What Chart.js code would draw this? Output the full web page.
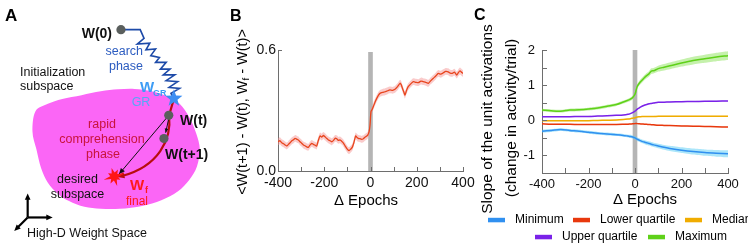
<!DOCTYPE html>
<html><head><meta charset="utf-8">
<script src="https://cdn.jsdelivr.net/npm/chart.js@4.4.1/dist/chart.umd.min.js"></script>
<style>
html,body{margin:0;padding:0;background:#fff;overflow:hidden;width:748px;height:250px}
canvas{position:absolute;left:0;top:0}
</style></head><body>
<canvas id="cA" width="240" height="250"></canvas>
<canvas id="cB" width="748" height="250"></canvas>
<canvas id="cC" width="748" height="250"></canvas>
<script>
// ---------------- DATA ----------------
// Panel B: alignment of weight update with final direction, vs epochs relative to transition
const bEpochs = [-400,-392,-384,-376,-368,-362,-355,-348,-340,-333,-326,-319,-312,-305,-298,-290,-283,-276,-269,-262,
  -254,-247,-240,-233,-226,-218,-211,-204,-197,-190,-182,-175,-168,-160,-153,-146,-139,-132,-125,-118,
  -110,-103,-98,-93,-86,-79,-72,-64,-58,-53,-46,-38,-31,-24,-18,-12,-6,-2,2,7,
  12,19,27,34,41,52,63,74,84,95,106,117,128,133,138,144,149,156,163,174,
  185,196,207,218,228,239,250,261,272,283,293,304,315,325,336,345,354,363,373,380,
  387,395,400];
const bMean = [0.145,0.150,0.140,0.135,0.128,0.124,0.132,0.140,0.150,0.155,0.162,0.158,0.154,0.145,0.138,0.129,0.125,0.120,0.117,0.128,
  0.137,0.132,0.128,0.124,0.150,0.174,0.168,0.176,0.170,0.162,0.154,0.150,0.145,0.152,0.162,0.160,0.152,0.154,0.148,0.140,
  0.125,0.112,0.105,0.101,0.108,0.117,0.140,0.174,0.166,0.162,0.160,0.157,0.160,0.167,0.172,0.178,0.195,0.228,0.294,0.305,
  0.319,0.340,0.360,0.375,0.385,0.390,0.393,0.398,0.402,0.400,0.405,0.418,0.435,0.428,0.410,0.392,0.377,0.400,0.418,0.432,
  0.443,0.440,0.438,0.446,0.443,0.440,0.435,0.448,0.460,0.472,0.484,0.480,0.487,0.494,0.492,0.485,0.484,0.490,0.476,0.488,
  0.496,0.488,0.484];
const bSem = 0.017;
const bXTickMarks = [-400,-300,-200,-100,0,100,200,300,400];
const bXTickLabels = [-400,-200,0,200,400];
const bYTickLabels = [0, 0.6];

// Panel C: slopes of unit activations
const cEpochs = [-400,-360,-320,-280,-240,-200,-160,-120,-80,-50,-30,-20,-10,0,5,10,20,30,40,50,60,70,80,100,125,150,200,250,300,350,400];
const cMinimum = [-0.31,-0.29,-0.265,-0.29,-0.31,-0.34,-0.37,-0.39,-0.41,-0.43,-0.45,-0.46,-0.475,-0.50,-0.52,-0.54,-0.57,-0.60,-0.62,-0.64,-0.66,-0.68,-0.70,-0.73,-0.77,-0.80,-0.85,-0.89,-0.92,-0.94,-0.955];
const cLowerQuartile = [-0.10,-0.11,-0.11,-0.115,-0.12,-0.12,-0.12,-0.12,-0.12,-0.115,-0.11,-0.105,-0.10,-0.095,-0.095,-0.095,-0.10,-0.105,-0.11,-0.115,-0.12,-0.125,-0.13,-0.14,-0.145,-0.15,-0.16,-0.17,-0.175,-0.185,-0.19];
const cMedian = [-0.01,-0.01,-0.01,-0.01,-0.01,-0.01,-0.005,0.0,0.005,0.02,0.035,0.045,0.06,0.075,0.085,0.095,0.10,0.105,0.11,0.11,0.11,0.11,0.11,0.112,0.112,0.113,0.113,0.114,0.114,0.115,0.115];
const cUpperQuartile = [0.10,0.10,0.10,0.10,0.11,0.11,0.12,0.13,0.14,0.15,0.17,0.19,0.22,0.26,0.29,0.32,0.36,0.40,0.43,0.45,0.47,0.48,0.49,0.51,0.515,0.52,0.53,0.535,0.54,0.545,0.55];
const cMaximum = [0.29,0.27,0.26,0.29,0.30,0.32,0.35,0.40,0.45,0.52,0.57,0.60,0.65,0.74,0.86,0.97,1.07,1.14,1.21,1.27,1.32,1.40,1.41,1.47,1.51,1.55,1.63,1.70,1.75,1.80,1.84];
const cMinimumSem = [0.04,0.04,0.04,0.04,0.04,0.04,0.04,0.04,0.04,0.04,0.04,0.045,0.045,0.05,0.05,0.05,0.05,0.055,0.055,0.06,0.06,0.06,0.06,0.065,0.07,0.075,0.08,0.085,0.09,0.095,0.10];
const cMaximumSem = [0.04,0.04,0.04,0.04,0.04,0.04,0.04,0.04,0.04,0.045,0.045,0.05,0.05,0.055,0.06,0.06,0.065,0.07,0.07,0.075,0.075,0.08,0.08,0.085,0.09,0.095,0.10,0.11,0.115,0.12,0.125];
const cSmallSem = 0.015;
const cSeriesNames = ['Minimum','Lower quartile','Median','Upper quartile','Maximum'];
const cXTickMarks = [-400,-300,-200,-100,0,100,200,300,400];
const cXTickLabels = [-400,-200,0,200,400];
const cYTickMarks = [-1.5,-1,-0.5,0,0.5,1,1.5,2];
const cYTickLabels = [-1,0,1,2];
const markerRange = [-10, 10];

// ---------------- STYLE / LAYOUT ----------------
const FF = '"Liberation Sans", Arial, Helvetica, sans-serif';
const font = (s, b) => (b ? 'bold ' : '') + s + 'px ' + FF;
const AXIS = '#6e6e6e';
const cColors = ['#3090f0','#e8380d','#f0ac00','#7a22e8','#5fd119'];
const cBands = ['rgba(90,205,245,0.5)','rgba(240,120,90,0.3)','rgba(245,200,90,0.35)','rgba(160,110,240,0.3)','rgba(140,228,90,0.5)'];
const legendPos = [[488,220],[573,220],[685,220],[535,237],[648,237]];

function txt(ctx, s, x, y, f, color, align, base) {
  ctx.font = f; ctx.fillStyle = color; ctx.textAlign = align || 'left'; ctx.textBaseline = base || 'middle';
  ctx.fillText(s, x, y);
}
function bandSets(xs, ys, sem, color) {
  const up = xs.map((e, i) => ({x: e, y: ys[i] + (Array.isArray(sem) ? sem[i] : sem)}));
  const lo = xs.map((e, i) => ({x: e, y: ys[i] - (Array.isArray(sem) ? sem[i] : sem)}));
  return [
    {data: up, borderWidth: 0, pointRadius: 0, fill: '+1', backgroundColor: color, order: 2, tension: 0.2},
    {data: lo, borderWidth: 0, pointRadius: 0, fill: false, order: 2, tension: 0.2}
  ];
}
function axisPlugin(cfg) {
  return {
    id: 'axisExtras' + cfg.key,
    beforeDatasetsDraw(chart) {
      const {ctx, chartArea: a, scales: {x, y}} = chart;
      const x0 = x.getPixelForValue(markerRange[0]), x1 = x.getPixelForValue(markerRange[1]);
      ctx.save(); ctx.fillStyle = '#b5b5b5';
      ctx.fillRect(x0, a.top + cfg.markerTopGap, x1 - x0, a.bottom - a.top - cfg.markerTopGap);
      ctx.restore();
    },
    afterDraw(chart) {
      const {ctx, chartArea: a, scales: {x, y}} = chart;
      ctx.save(); ctx.strokeStyle = AXIS; ctx.lineWidth = 1; ctx.beginPath();
      cfg.xMarks.forEach(v => { const p = Math.round(x.getPixelForValue(v)) + 0.5; ctx.moveTo(p, a.bottom); ctx.lineTo(p, a.bottom - cfg.len); });
      cfg.yMarks.forEach(v => { const p = Math.round(y.getPixelForValue(v)) + 0.5; ctx.moveTo(a.left, p); ctx.lineTo(a.left + cfg.len, p); });
      ctx.stroke(); ctx.restore();
      ctx.save(); cfg.extra(ctx, chart); ctx.restore();
    }
  };
}
function baseOptions(pad, yW, xH, xMin, xMax, yMin, yMax, xLab, yLab, yFmt, tickFont, xPad, yPad) {
  return {
    responsive: false, animation: false, events: [],
    layout: {padding: pad},
    plugins: {legend: {display: false}, tooltip: {enabled: false}},
    scales: {
      x: {type: 'linear', min: xMin, max: xMax,
        afterBuildTicks: s => { s.ticks = xLab.map(v => ({value: v})); },
        afterFit: s => { s.height = xH; },
        ticks: {autoSkip: false, maxRotation: 0, minRotation: 0, font: {family: FF, size: tickFont}, color: '#111', padding: xPad, callback: v => String(v)},
        grid: {display: true, drawOnChartArea: false, drawTicks: false},
        border: {display: true, color: AXIS, width: 1}},
      y: {type: 'linear', min: yMin, max: yMax,
        afterBuildTicks: s => { s.ticks = yLab.map(v => ({value: v})); },
        afterFit: s => { s.width = yW; },
        ticks: {autoSkip: false, font: {family: FF, size: tickFont}, color: '#111', padding: yPad, callback: yFmt},
        grid: {display: true, drawOnChartArea: false, drawTicks: false},
        border: {display: true, color: AXIS, width: 1}}
    }
  };
}

// ---------------- PANEL B ----------------
const bData = bEpochs.map((e, i) => ({x: e, y: bMean[i]}));
new Chart(document.getElementById('cB'), {
  type: 'line',
  data: {datasets: [
    ...bandSets(bEpochs, bMean, bSem, 'rgba(245,140,140,0.45)'),
    {data: bData, borderColor: '#e8461e', borderWidth: 1.3, pointRadius: 0, fill: false, order: 1, tension: 0.2}
  ]},
  options: baseOptions({left: 248, right: 285, top: 50, bottom: 39}, 30, 40, -400, 400, 0, 0.6,
    bXTickLabels, bYTickLabels, v => Number(v).toFixed(1), 14, 4, 2),
  plugins: [axisPlugin({key: 'B', len: 4, markerTopGap: 2, xMarks: bXTickMarks, yMarks: bYTickLabels, extra: (ctx) => {
    txt(ctx, 'B', 230, 17, font(16, true), '#000');
    txt(ctx, '\u0394 Epochs', 366, 201, font(15), '#000', 'center');
    // rotated y label with subscript
    ctx.translate(243, 112); ctx.rotate(-Math.PI / 2);
    const parts = [['<W(t+1) - W(t), W', 14.5, 0], ['f', 9.5, 3], [' - W(t)>', 14.5, 0]];
    let total = 0;
    parts.forEach(p => { ctx.font = font(p[1]); total += ctx.measureText(p[0]).width; });
    let cx = -total / 2;
    parts.forEach(p => { ctx.font = font(p[1]); ctx.fillStyle = '#000'; ctx.textAlign = 'left'; ctx.textBaseline = 'middle'; ctx.fillText(p[0], cx, p[2]); cx += ctx.measureText(p[0]).width; });
  }})]
});

// ---------------- PANEL C ----------------
const cSeries = [cMinimum, cLowerQuartile, cMedian, cUpperQuartile, cMaximum];
const cSems = [cMinimumSem, cSmallSem, cSmallSem, cSmallSem, cMaximumSem];
const cDatasets = [];
cSeries.forEach((vals, k) => cDatasets.push(...bandSets(cEpochs, vals, cSems[k], cBands[k])));
cSeries.forEach((vals, k) => cDatasets.push({data: cEpochs.map((e, i) => ({x: e, y: vals[i]})), borderColor: cColors[k], borderWidth: 1.5, pointRadius: 0, fill: false, order: 1, tension: 0.3}));
new Chart(document.getElementById('cC'), {
  type: 'line',
  data: {datasets: cDatasets},
  options: baseOptions({left: 502, right: 20, top: 50, bottom: 37}, 40, 40, -400, 400, -1.5, 2,
    cXTickLabels, cYTickLabels, v => String(v), 13, 4, 7),
  plugins: [axisPlugin({key: 'C', len: 5, markerTopGap: 0, xMarks: cXTickMarks, yMarks: cYTickMarks, extra: (ctx) => {
    txt(ctx, 'C', 474, 16, font(16, true), '#000');
    txt(ctx, '\u0394 Epochs', 645, 200, font(15), '#000', 'center');
    ctx.save(); ctx.translate(488, 119); ctx.rotate(-Math.PI / 2);
    txt(ctx, 'Slope of the unit activations', 0, 0, font(15.5), '#000', 'center');
    ctx.restore();
    ctx.save(); ctx.translate(511.5, 118); ctx.rotate(-Math.PI / 2);
    txt(ctx, '(change in activity/trial)', 0, 0, font(15.5), '#000', 'center');
    ctx.restore();
    cSeriesNames.forEach((n, k) => {
      const [lx, ly] = legendPos[k];
      ctx.fillStyle = cColors[k]; ctx.fillRect(lx, ly - 2.2, 17, 4.5);
      txt(ctx, n, lx + 27, ly, font(12), '#000');
    });
  }})]
});

// ---------------- PANEL A (schematic) ----------------
const blobPts = [[32,111],[45,103],[60,98],[80,94],[100,90],[118,88],[135,87.5],[153,90],[168,95],[182,103],[192,117],[199,133],[203,150],[200,168],[192,182],[180,194],[163,203],[143,209],[120,212],[100,212],[83,210],[67,204],[55,196],[45,185],[38,170],[33,150],[29,132]];
const zigPts = [[121,26],[141,26],[145,35],[138,41],[151,40],[147,47],[157,46],[152,53],[161,55],[157,60],[168,60],[162,67],[172,67],[165,73],[177,73],[168,79],[180,80],[171,86],[182,87],[173,92],[176,98]];
const weightDots = [{x:121,y:26},{x:170.7,y:115},{x:165.7,y:139}];

function closedSpline(ctx, pts) {
  const n = pts.length;
  ctx.moveTo(pts[0][0], pts[0][1]);
  for (let i = 0; i < n; i++) {
    const p0 = pts[(i - 1 + n) % n], p1 = pts[i], p2 = pts[(i + 1) % n], p3 = pts[(i + 2) % n];
    ctx.bezierCurveTo(p1[0] + (p2[0] - p0[0]) / 6, p1[1] + (p2[1] - p0[1]) / 6, p2[0] - (p3[0] - p1[0]) / 6, p2[1] - (p3[1] - p1[1]) / 6, p2[0], p2[1]);
  }
  ctx.closePath();
}
function head(ctx, from, to, size, color) {
  const ang = Math.atan2(to[1] - from[1], to[0] - from[0]);
  ctx.beginPath();
  ctx.moveTo(to[0], to[1]);
  ctx.lineTo(to[0] - size * Math.cos(ang - 0.42), to[1] - size * Math.sin(ang - 0.42));
  ctx.lineTo(to[0] - size * Math.cos(ang + 0.42), to[1] - size * Math.sin(ang + 0.42));
  ctx.closePath(); ctx.fillStyle = color; ctx.fill();
}
function star(ctx, c, radii, inner, rot, color) {
  const n = radii.length;
  ctx.beginPath();
  for (let i = 0; i < n; i++) {
    const a1 = rot + i * 2 * Math.PI / n, a2 = a1 + Math.PI / n;
    ctx.lineTo(c[0] + radii[i] * Math.cos(a1), c[1] + radii[i] * Math.sin(a1));
    ctx.lineTo(c[0] + inner * Math.cos(a2), c[1] + inner * Math.sin(a2));
  }
  ctx.closePath(); ctx.fillStyle = color; ctx.fill();
}
const diagram = {
  id: 'diagram',
  beforeDatasetsDraw(chart) {
    const ctx = chart.ctx, sx = chart.scales.x, sy = chart.scales.y;
    const P = p => [sx.getPixelForValue(p[0]), sy.getPixelForValue(p[1])];
    ctx.save();
    ctx.beginPath(); closedSpline(ctx, blobPts.map(P)); ctx.fillStyle = '#fb66f6'; ctx.fill();
    // search zigzag
    ctx.beginPath(); zigPts.map(P).forEach((p, i) => i ? ctx.lineTo(p[0], p[1]) : ctx.moveTo(p[0], p[1]));
    ctx.strokeStyle = '#1d4aa8'; ctx.lineWidth = 1.6; ctx.lineJoin = 'miter'; ctx.stroke();
    // rapid comprehension (red curve)
    const r0 = P([176,98]), r1 = P([171,115]), c1 = P([174,140]), c2 = P([160,168]), r2 = P([122,178]);
    ctx.beginPath(); ctx.moveTo(r0[0], r0[1]); ctx.lineTo(r1[0], r1[1]);
    ctx.bezierCurveTo(c1[0], c1[1], c2[0], c2[1], r2[0], r2[1]);
    ctx.strokeStyle = '#b80d0d'; ctx.lineWidth = 2.2; ctx.stroke();
    head(ctx, P([132,175]), P([117,179]), 8, '#b80d0d');
    // black straight arrow
    const k0 = P([169,117]), k1 = P([119,176]);
    ctx.beginPath(); ctx.moveTo(k0[0], k0[1]); ctx.lineTo(k1[0], k1[1]); ctx.strokeStyle = '#111'; ctx.lineWidth = 1; ctx.stroke();
    head(ctx, k0, k1, 6.5, '#111');
    const s0 = P([170.5,119]), s1 = P([167.5,133]);
    ctx.beginPath(); ctx.moveTo(s0[0], s0[1]); ctx.lineTo(s1[0], s1[1]); ctx.stroke();
    head(ctx, s0, s1, 4.5, '#111');
    // stars
    star(ctx, P([176,97.5]), [9,9,9,9,9], 3.8, -Math.PI / 2, '#3d8ef2');
    star(ctx, P([114,178.5]), [11,7,10,8,11,7,9,8], 4, -0.3, '#ff1515');
    // axes icon
    ctx.strokeStyle = '#000'; ctx.lineWidth = 2.2;
    const o = P([24,221]);
    [[24,201],[46,221],[13,232]].forEach(t => {
      const tp = P(t);
      ctx.beginPath(); ctx.moveTo(o[0], o[1]); ctx.lineTo(tp[0], tp[1]); ctx.stroke();
    });
    head(ctx, o, P([24,196]), 7, '#000');
    head(ctx, o, P([50,221]), 7, '#000');
    head(ctx, o, P([10,235]), 7, '#000');
    ctx.restore();
  },
  afterDraw(chart) {
    const ctx = chart.ctx;
    ctx.save();
    txt(ctx, 'A', 5, 16, font(17, true), '#000');
    txt(ctx, 'W(0)', 112, 34, font(14, true), '#111', 'right');
    txt(ctx, 'search', 143, 52, font(12.5), '#2c5cc0', 'right');
    txt(ctx, 'phase', 143, 67, font(12.5), '#2c5cc0', 'right');
    txt(ctx, 'Initialization', 20, 73, font(12.5), '#111');
    txt(ctx, 'subspace', 20, 87, font(12.5), '#111');
    txt(ctx, 'W', 140, 88, font(15, true), '#3d9cf5');
    txt(ctx, 'GR', 153, 94, font(9, true), '#3d9cf5');
    txt(ctx, 'GR', 141, 103, font(12.5), '#55a8f5', 'center');
    txt(ctx, 'W(t)', 180, 121, font(14, true), '#111');
    txt(ctx, 'W(t+1)', 165, 155, font(14, true), '#111');
    txt(ctx, 'rapid', 102, 125, font(12.5), '#c8143c', 'center');
    txt(ctx, 'comprehension', 102, 140, font(12.5), '#c8143c', 'center');
    txt(ctx, 'phase', 103, 154.5, font(12.5), '#c8143c', 'center');
    txt(ctx, 'desired', 77.5, 180, font(12.5), '#111', 'center');
    txt(ctx, 'subspace', 77.5, 195, font(12.5), '#111', 'center');
    txt(ctx, 'W', 130, 186, font(15, true), '#ff1a1a');
    txt(ctx, 'f', 145, 191, font(9, true), '#ff1a1a');
    txt(ctx, 'final', 137, 202, font(12), '#ff1a1a', 'center');
    txt(ctx, 'High-D Weight Space', 27, 234, font(12.5), '#111');
    ctx.restore();
  }
};
new Chart(document.getElementById('cA'), {
  type: 'scatter',
  data: {datasets: [{data: weightDots, pointRadius: 4.6, pointBackgroundColor: '#5a5f5d', pointBorderWidth: 0}]},
  options: {responsive: false, animation: false, events: [],
    layout: {padding: 0},
    plugins: {legend: {display: false}, tooltip: {enabled: false}},
    scales: {x: {type: 'linear', min: 0, max: 240, display: false}, y: {type: 'linear', min: 0, max: 250, reverse: true, display: false}}},
  plugins: [diagram]
});
</script>
</body></html>
